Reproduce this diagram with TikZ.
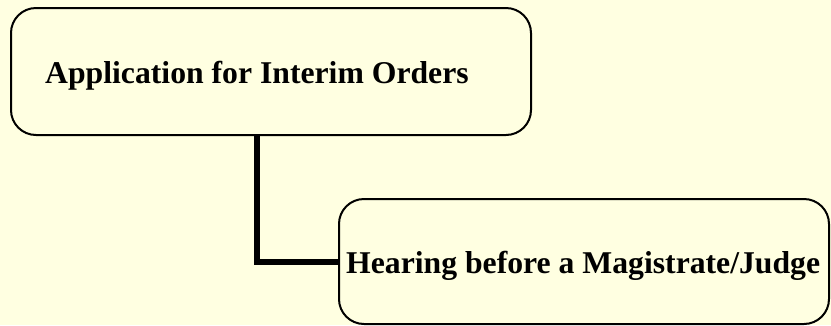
\documentclass[tikz,border=0pt]{standalone}
\usepackage{fontspec}
\setmainfont{Liberation Serif}
\definecolor{paper}{RGB}{255,255,225}
\tikzset{
  stepbox/.style={draw=black, line width=2pt, rounded corners=25pt, fill=paper, inner sep=0pt},
  boxtext/.style={font=\bfseries\fontsize{31.7}{36}\selectfont, inner sep=0pt, anchor=base west},
  link/.style={line width=6pt}
}
\begin{document}
\begin{tikzpicture}[x=1pt,y=-1pt]
  \fill[paper] (0,0) rectangle (831,325);
  \useasboundingbox (0,0) rectangle (831,325);
  % boxes
  \node[stepbox, minimum width=520pt, minimum height=127pt] (apply) at (271,71.5) {};
  \node[stepbox, minimum width=490pt, minimum height=125pt] (hear) at (584,261.5) {};
  % connector from the first box down and across to the second
  \coordinate (drop) at (257,135);
  \draw[link] (drop) |- (hear.west);
  % labels
  \node[boxtext] (applyt) at (45,83) {Application for Interim Orders};
  \node[boxtext] (heart) at (346,273) {Hearing before a Magistrate/Judge};
\end{tikzpicture}
\end{document}
